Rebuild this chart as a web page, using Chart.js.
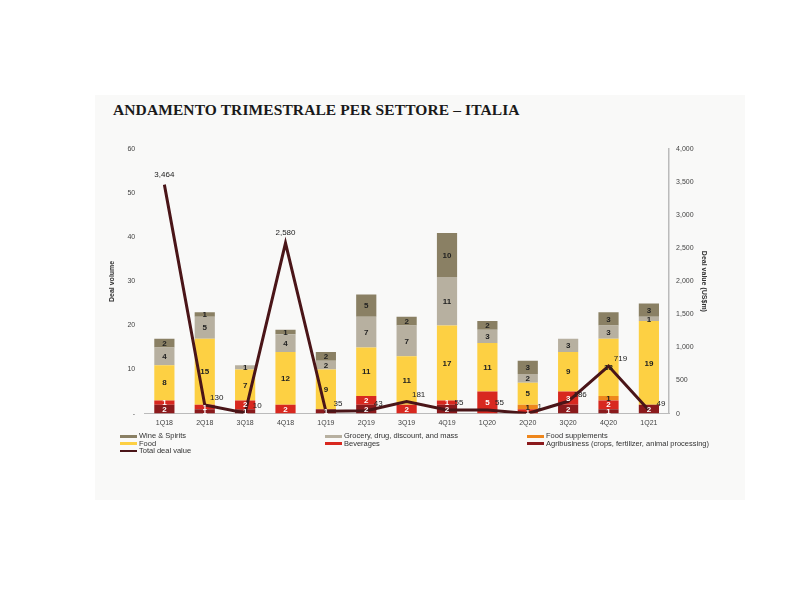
<!DOCTYPE html>
<html>
<head>
<meta charset="utf-8">
<script src="https://cdn.jsdelivr.net/npm/chart.js@4"></script>
<style>
  body { margin: 0; background: #fff; width: 800px; height: 600px; position: relative; font-family: "Liberation Sans", Arial, sans-serif; }
  #panel { position: absolute; left: 95px; top: 95px; width: 650px; height: 405px; background: #f9f9f8; }
  #title { position: absolute; left: 113px; top: 101px; font-family: "Liberation Serif", "DejaVu Serif", serif; font-weight: bold; font-size: 15.5px; color: #1a1a1a; letter-spacing: 0.1px; }
  #wrap { position: absolute; left: 106px; top: 136px; width: 604px; height: 296px; }
  #legend { position: absolute; left: 120px; top: 432px; width: 620px; height: 30px; font-size: 7.5px; color: #333; }
  .item { position: absolute; white-space: nowrap; line-height: 8px; }
  .sw { display: inline-block; width: 17px; height: 3px; margin-right: 2px; vertical-align: middle; }
</style>
</head>
<body>
<div id="panel"></div>
<div id="title">ANDAMENTO TRIMESTRALE PER SETTORE – ITALIA</div>
<div id="wrap"><canvas id="chart"></canvas></div>
<div id="legend"></div>
<script>
const quarters = ["1Q18", "2Q18", "3Q18", "4Q18", "1Q19", "2Q19", "3Q19", "4Q19", "1Q20", "2Q20", "3Q20", "4Q20", "1Q21"];
const agribusiness = [2, 1, 1, 0, 1, 2, 0, 2, 0, 0, 2, 1, 2];
const beverages = [1, 1, 2, 2, 0, 2, 2, 1, 5, 1, 3, 2, 0];
const foodSupplements = [0, 0, 0, 0, 0, 0, 0, 0, 0, 1, 0, 1, 0];
const food = [8, 15, 7, 12, 9, 11, 11, 17, 11, 5, 9, 13, 19];
const grocery = [4, 5, 1, 4, 2, 7, 7, 11, 3, 2, 3, 3, 1];
const wineSpirits = [2, 1, 0, 1, 2, 5, 2, 10, 2, 3, 0, 3, 3];
const totalDealValue = [3464, 130, 10, 2580, 35, 43, 181, 55, 55, 1, 186, 719, 49];

const barSets = [
  { label: "Agribusiness (crops, fertilizer, animal processing)", data: agribusiness, color: "#8b1a1c", text: "#fff" },
  { label: "Beverages", data: beverages, color: "#d8281f", text: "#fff" },
  { label: "Food supplements", data: foodSupplements, color: "#ee861c", text: "#222" },
  { label: "Food", data: food, color: "#fdd043", text: "#222" },
  { label: "Grocery, drug, discount, and mass", data: grocery, color: "#b7b0a0", text: "#222" },
  { label: "Wine & Spirits", data: wineSpirits, color: "#8a8064", text: "#222" }
];

const lineColor = "#4a1518";

const datasets = barSets.map(s => ({
  type: "bar",
  label: s.label,
  data: s.data,
  backgroundColor: s.color,
  textColor: s.text,
  stack: "vol",
  yAxisID: "y",
  order: 2,
  categoryPercentage: 1,
  barPercentage: 0.5
}));
datasets.push({
  type: "line",
  label: "Total deal value",
  data: totalDealValue,
  borderColor: lineColor,
  borderWidth: 3,
  pointRadius: 0,
  tension: 0,
  yAxisID: "y1",
  order: 0
});

// numbers inside the stacked segments and above the line points
const labelPlugin = {
  id: "labels",
  afterDatasetsDraw(chart) {
    const ctx = chart.ctx;
    ctx.save();
    ctx.textAlign = "center";
    ctx.textBaseline = "middle";
    chart.data.datasets.forEach((ds, i) => {
      const meta = chart.getDatasetMeta(i);
      if (ds.type === "bar") {
        ctx.font = "bold 8px 'Liberation Sans', Arial";
        ctx.fillStyle = ds.textColor;
        meta.data.forEach((el, j) => {
          const v = ds.data[j];
          if (!v) return;
          ctx.fillText(String(v), el.x, (el.y + el.base) / 2 + 0.5);
        });
      }
    });
    const li = chart.data.datasets.findIndex(d => d.type === "line");
    const lm = chart.getDatasetMeta(li);
    ctx.font = "8px 'Liberation Sans', Arial";
    ctx.fillStyle = "#222";
    lm.data.forEach((pt, j) => {
      const v = totalDealValue[j];
      const txt = v.toLocaleString("en-US");
      if (v >= 1000) ctx.fillText(txt, pt.x, pt.y - 10);
      else ctx.fillText(txt, pt.x + 12, pt.y - 7);
    });
    ctx.restore();
  }
};

const tickFont = { family: "'Liberation Sans', Arial", size: 7 };

new Chart(document.getElementById("chart"), {
  data: { labels: quarters, datasets },
  options: {
    responsive: true,
    maintainAspectRatio: false,
    animation: false,
    layout: { padding: { left: 0, right: 0, top: 6, bottom: 0 } },
    plugins: { legend: { display: false }, tooltip: { enabled: false } },
    scales: {
      x: {
        stacked: true,
        grid: { display: false, drawTicks: false },
        border: { color: "#bbb", width: 1 },
        ticks: { font: tickFont, color: "#444", padding: 5 }
      },
      y: {
        stacked: true,
        min: 0, max: 60,
        grid: { display: false, drawTicks: false },
        border: { display: false },
        ticks: { stepSize: 10, font: tickFont, color: "#444", padding: 9, callback: v => v === 0 ? "-" : v },
        title: { display: true, text: "Deal volume", font: { family: "'Liberation Sans', Arial", size: 7, weight: "bold" }, color: "#333", padding: 2 }
      },
      y1: {
        position: "right",
        min: 0, max: 4000,
        grid: { display: false, drawOnChartArea: false, drawTicks: true, tickLength: 3, color: "#bbb" },
        border: { display: true, color: "#bbb", width: 1.5 },
        ticks: { stepSize: 500, font: tickFont, color: "#444", padding: 4, callback: v => v.toLocaleString("en-US") },
        title: { display: true, text: "Deal value (US$m)", font: { family: "'Liberation Sans', Arial", size: 7, weight: "bold" }, color: "#333", padding: 2 }
      }
    }
  },
  plugins: [labelPlugin]
});

// legend laid out in three columns like the original
const legendItems = [
  { label: "Wine & Spirits", color: "#8a8064", col: 0, row: 0 },
  { label: "Food", color: "#fdd043", col: 0, row: 1 },
  { label: "Total deal value", color: lineColor, col: 0, row: 2, thin: true },
  { label: "Grocery, drug, discount, and mass", color: "#b7b0a0", col: 1, row: 0 },
  { label: "Beverages", color: "#d8281f", col: 1, row: 1 },
  { label: "Food supplements", color: "#ee861c", col: 2, row: 0 },
  { label: "Agribusiness (crops, fertilizer, animal processing)", color: "#8b1a1c", col: 2, row: 1 }
];
const colX = [0, 205, 407];
const legend = document.getElementById("legend");
legendItems.forEach(it => {
  const d = document.createElement("div");
  d.className = "item";
  d.style.left = colX[it.col] + "px";
  d.style.top = (it.row * 7.5) + "px";
  d.innerHTML = `<span class="sw" style="background:${it.color};height:${it.thin ? 2 : 3}px"></span>${it.label}`;
  legend.appendChild(d);
});
</script>
</body>
</html>
